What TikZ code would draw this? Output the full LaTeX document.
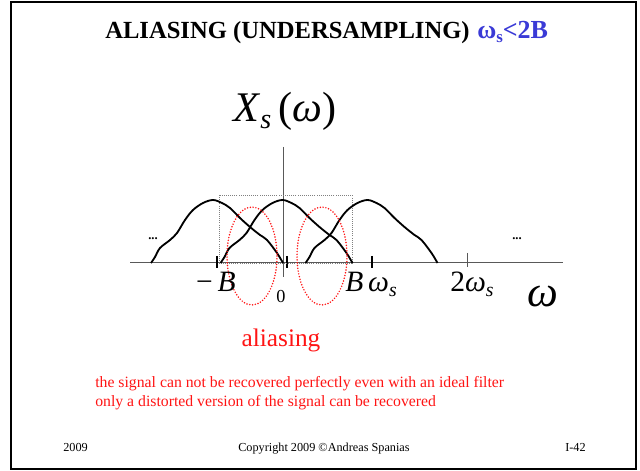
\documentclass[tikz,border=0pt]{standalone}
\usepackage{fontspec}
\setmainfont{Liberation Serif}
\usepackage{tikz}
\usetikzlibrary{arrows.meta}
\definecolor{titleblue}{RGB}{58,58,214}
\definecolor{aliasred}{RGB}{255,20,20}

\begin{document}
\begin{tikzpicture}[x=0.025cm, y=-0.025cm]

\useasboundingbox (0,0) rectangle (640,471);

% ---------------- FRAME ----------------

\draw[
    line width=1.8pt,
    black
] (11,2) rectangle (636,469);


% ---------------- TITLE ----------------

\node[anchor=base west, inner sep=0pt] (title) at (105,39)
    {\fontsize{17.5}{19}\selectfont\bfseries ALIASING (UNDERSAMPLING)};
\node[anchor=base west, inner sep=0pt, text=titleblue] (cond) at (477,39)
    {\fontsize{18.5}{20}\selectfont\bfseries ω\raisebox{-0.3ex}{\fontsize{12}{13}\selectfont s}<2B};

\node[anchor=base west, inner sep=0pt] (xs) at (233,122)
    {\fontsize{30}{33}\selectfont\textit{X}\raisebox{-0.35ex}{\fontsize{20}{22}\selectfont\textit{s}}\,(\textit{ω})};


% ---------------- AXES ----------------

\draw[
    gray!70!black,
    line width=0.7pt
] (130,262) -- (563,262);

\draw[
    gray!70!black,
    line width=0.7pt
] (283.5,147) -- (283.5,277);

% ticks
\foreach \tx in {217,287,372} {
    \draw[line width=1.3pt, black] (\tx,256) -- (\tx,268);
}
\draw[gray!70!black, line width=0.7pt] (467,253) -- (467,267);


% ---------------- SPECTRUM ----------------

\draw[
    densely dotted,
    gray,
    line width=0.5pt
] (219,195) rectangle (352,263);

\foreach \c in {217,286.5,371.5} {
    \draw[
        line width=1.3pt,
        black,
        shift={(\c,0)}
    ] plot[smooth, tension=0.55] coordinates {
        (-66,263) (-62,257) (-57,248) (-47,240) (-40,233) (-32,220)
        (-24,210) (-14,203) (-4,200) (5,203) (13,208) (23,218)
        (33,227) (43,235) (50,240) (60,253) (66,263)
    };
}

\node[inner sep=0pt] (dotsL) at (153,239)
    {\fontsize{9}{10}\selectfont\bfseries ...};
\node[inner sep=0pt] (dotsR) at (517,239)
    {\fontsize{9}{10}\selectfont\bfseries ...};


% ---------------- ALIASING REGIONS ----------------

\draw[
    aliasred,
    line width=1.2pt,
    line cap=round,
    dash pattern=on 0pt off 2pt
] (252,256) ellipse [x radius=25, y radius=49];

\draw[
    aliasred,
    line width=1.2pt,
    line cap=round,
    dash pattern=on 0pt off 2pt
] (322,256) ellipse [x radius=25, y radius=49];


% ---------------- AXIS LABELS ----------------

\node[anchor=base east, inner sep=0pt] (mB) at (236,292)
    {\fontsize{21}{24}\selectfont −\,\textit{B}};
\node[anchor=base, inner sep=0pt] (zero) at (281,303)
    {\fontsize{13}{15}\selectfont 0};
\node[anchor=base west, inner sep=0pt] (Bws) at (345,292)
    {\fontsize{21}{24}\selectfont\textit{B}\,\textit{ω}\raisebox{-0.35ex}{\fontsize{14}{15}\selectfont\textit{s}}};
\node[anchor=base west, inner sep=0pt] (tws) at (450,292)
    {\fontsize{21}{24}\selectfont 2\textit{ω}\raisebox{-0.35ex}{\fontsize{14}{15}\selectfont\textit{s}}};
\node[anchor=base west, inner sep=0pt] (om) at (527,307)
    {\fontsize{31}{34}\selectfont\textit{ω}};


% ---------------- TEXT ----------------

\node[anchor=base, inner sep=0pt, text=aliasred] (alias) at (281,347)
    {\fontsize{18}{20}\selectfont aliasing};

\node[anchor=base west, inner sep=0pt, text=aliasred] (note1) at (95,388)
    {\fontsize{11.2}{13}\selectfont the signal can not be recovered perfectly even with an ideal filter};
\node[anchor=base west, inner sep=0pt, text=aliasred] (note2) at (95,407)
    {\fontsize{11.2}{13}\selectfont only a distorted version of the signal can be recovered};


% ---------------- FOOTER ----------------

\node[anchor=base west, inner sep=0pt] (year) at (63,452)
    {\fontsize{8.7}{10}\selectfont 2009};
\node[anchor=base west, inner sep=0pt] (copy) at (238,452)
    {\fontsize{8.7}{10}\selectfont Copyright 2009 ©Andreas Spanias};
\node[anchor=base east, inner sep=0pt] (page) at (586,452)
    {\fontsize{8.7}{10}\selectfont I-42};

\end{tikzpicture}
\end{document}
